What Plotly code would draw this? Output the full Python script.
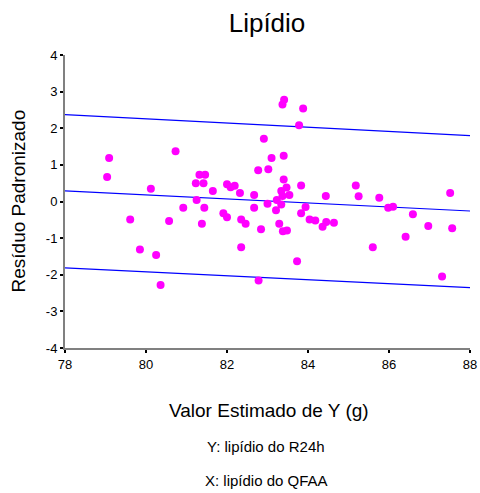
import plotly.graph_objects as go

# Data
valor_estimado = [
    79.09, 79.04, 80.73, 80.12, 81.32, 81.23, 81.42, 81.25, 83.41, 83.37,
    83.88, 83.78, 82.91, 83.40, 83.10, 82.77, 83.02, 81.46, 83.40, 81.65,
    82.00, 82.19, 82.09, 82.32, 82.67, 83.83, 83.34, 83.47, 83.54, 83.37,
    83.23, 84.44, 85.18, 85.25, 85.76, 87.51, 80.92, 81.44, 79.61, 80.57,
    81.38, 79.85, 80.25, 80.36, 82.67, 83.00, 83.34, 83.21, 83.94, 83.83,
    81.91, 82.00, 82.35, 82.46, 82.84, 83.29, 83.38, 83.48, 84.04, 84.18,
    84.45, 84.36, 84.64, 82.35, 83.73, 82.78, 85.98, 86.10, 86.59, 86.97,
    87.56, 86.41, 85.60, 87.31,
]
residuo = [
    1.19, 0.67, 1.37, 0.35, 0.73, 0.50, 0.50, 0.04, 2.78, 2.65,
    2.54, 2.08, 1.71, 1.25, 1.19, 0.85, 0.88, 0.73, 0.60, 0.29,
    0.47, 0.43, 0.39, 0.23, 0.18, 0.44, 0.29, 0.38, 0.18, 0.15,
    0.04, 0.15, 0.44, 0.14, 0.10, 0.23, -0.17, -0.17, -0.49, -0.53,
    -0.61, -1.31, -1.46, -2.28, -0.17, -0.06, -0.08, -0.24, -0.15, -0.32,
    -0.32, -0.43, -0.49, -0.61, -0.76, -0.61, -0.81, -0.79, -0.49, -0.52,
    -0.56, -0.69, -0.58, -1.25, -1.63, -2.16, -0.17, -0.14, -0.35, -0.67,
    -0.73, -0.96, -1.25, -2.05,
]

linha_x = [78, 88]
linha_ajuste = [0.29, -0.26]
linha_superior = [2.37, 1.80]
linha_inferior = [-1.81, -2.35]

x_ticks = [78, 80, 82, 84, 86, 88]
y_ticks = [-4, -3, -2, -1, 0, 1, 2, 3, 4]

FONT = "Arial, 'Liberation Sans', sans-serif"

fig = go.Figure()
for ys in (linha_superior, linha_ajuste, linha_inferior):
    fig.add_trace(go.Scatter(x=linha_x, y=ys, mode="lines",
                             line=dict(color="#0000FF", width=1.2),
                             hoverinfo="skip", showlegend=False))
fig.add_trace(go.Scatter(x=valor_estimado, y=residuo, mode="markers",
                         marker=dict(color="#FF00FF", size=8, line=dict(width=0)),
                         showlegend=False))

fig.update_layout(
    width=480, height=493,
    margin=dict(l=65, r=10, t=55, b=145),
    paper_bgcolor="white", plot_bgcolor="white",
    font=dict(family=FONT, color="black", size=13),
    title=dict(text="Lipídio", x=(267 / 480), xanchor="center", y=1 - 22.5 / 493,
               yanchor="middle", font=dict(size=26, family=FONT, color="black")),
    xaxis=dict(range=[78, 88], tickvals=x_ticks, ticktext=[str(v) for v in x_ticks],
               showgrid=False, zeroline=False, showline=True, linecolor="#808080",
               linewidth=2, ticks="outside", ticklen=3, tickwidth=2, tickcolor="black",
               tickfont=dict(size=13, family=FONT), automargin=False),
    yaxis=dict(range=[-4, 4], tickvals=y_ticks, ticktext=[str(v) for v in y_ticks],
               showgrid=False, zeroline=False, showline=True, linecolor="#808080",
               linewidth=2, ticks="outside", ticklen=3, tickwidth=2, tickcolor="black",
               tickfont=dict(size=13, family=FONT), automargin=False),
    annotations=[
        dict(text="Valor Estimado de Y (g)", xref="paper", yref="paper",
             x=0.5025, y=-(410 - 348) / 293, xanchor="center", yanchor="middle",
             showarrow=False, font=dict(size=19, family=FONT)),
        dict(text="Y: lipídio do R24h", xref="paper", yref="paper",
             x=0.497, y=-(446 - 348) / 293, xanchor="center", yanchor="middle",
             showarrow=False, font=dict(size=15, family=FONT)),
        dict(text="X: lipídio do QFAA", xref="paper", yref="paper",
             x=0.498, y=-(481 - 348) / 293, xanchor="center", yanchor="middle",
             showarrow=False, font=dict(size=15, family=FONT)),
        dict(text="Resíduo Padronizado", xref="paper", yref="paper",
             x=(18 - 65) / 405, y=0.5, xanchor="center", yanchor="middle",
             textangle=-90, showarrow=False, font=dict(size=19, family=FONT)),
    ],
)

fig.write_html("out.html")
